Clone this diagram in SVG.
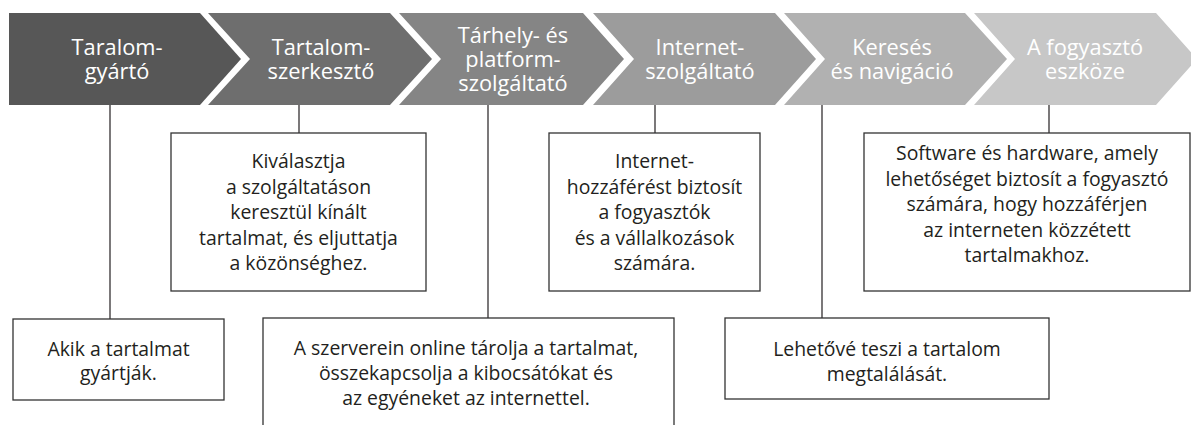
<svg xmlns="http://www.w3.org/2000/svg" width="1191" height="425" viewBox="0 0 1191 425">
<style>
.ct{font-family:"Open Sans","Liberation Sans",sans-serif;font-size:21.8px;fill:#ffffff;text-anchor:middle}
.bt{font-family:"Open Sans","Liberation Sans",sans-serif;font-size:19.4px;fill:#231f20;text-anchor:middle}
.box{fill:#ffffff;stroke:#333333;stroke-width:1.3}
.con{stroke:#231f20;stroke-width:1.2;fill:none}
</style>
<rect width="1191" height="425" fill="#ffffff"/>
<g id="connectors">
<line class="con" x1="110" y1="105" x2="110" y2="319"/>
<line class="con" x1="299" y1="105" x2="299" y2="133"/>
<line class="con" x1="488" y1="105" x2="488" y2="318"/>
<line class="con" x1="655" y1="105" x2="655" y2="133"/>
<line class="con" x1="822" y1="105" x2="822" y2="318"/>
<line class="con" x1="1049" y1="105" x2="1049" y2="133"/>
</g>
<g id="ch1">
<polygon points="9,13 200,13 241,59 200,105 9,105" fill="#575757"/>
<text class="ct"><tspan x="117" y="55">Taralom-</tspan><tspan x="117" y="79">gyártó</tspan></text>
</g>
<g id="ch2">
<polygon points="208,13 390,13 432,59 390,105 208,105 250,59" fill="#6e6e6e"/>
<text class="ct"><tspan x="321" y="55">Tartalom-</tspan><tspan x="321" y="79">szerkesztő</tspan></text>
</g>
<g id="ch3">
<polygon points="399,13 583,13 624,59 583,105 399,105 441,59" fill="#858585"/>
<text class="ct"><tspan x="513" y="43">Tárhely- és</tspan><tspan x="513" y="67">platform-</tspan><tspan x="513" y="91">szolgáltató</tspan></text>
</g>
<g id="ch4">
<polygon points="593,13 775,13 816,59 775,105 593,105 634,59" fill="#9c9c9c"/>
<text class="ct"><tspan x="700" y="55">Internet-</tspan><tspan x="700" y="79">szolgáltató</tspan></text>
</g>
<g id="ch5">
<polygon points="784,13 965,13 1007,59 965,105 784,105 825,59" fill="#b1b1b1"/>
<text class="ct"><tspan x="892" y="55">Keresés</tspan><tspan x="892" y="79">és navigáció</tspan></text>
</g>
<g id="ch6">
<polygon points="974,13 1156,13 1197,59 1156,105 974,105 1015,59" fill="#c7c7c7"/>
<text class="ct"><tspan x="1085" y="55">A fogyasztó</tspan><tspan x="1085" y="79">eszköze</tspan></text>
</g>
<g id="box1">
<rect class="box" x="13" y="319" width="211" height="81"/>
<text class="bt"><tspan x="118.5" y="356">Akik a tartalmat</tspan><tspan x="118.5" y="380">gyártják.</tspan></text>
</g>
<g id="box2">
<rect class="box" x="171" y="133" width="255" height="158"/>
<text class="bt"><tspan x="298.5" y="168">Kiválasztja</tspan><tspan x="298.5" y="194">a szolgáltatáson</tspan><tspan x="298.5" y="219">keresztül kínált</tspan><tspan x="298.5" y="245">tartalmat, és eljuttatja</tspan><tspan x="298.5" y="270">a közönséghez.</tspan></text>
</g>
<g id="box3">
<rect class="box" x="263" y="318" width="411" height="120"/>
<text class="bt"><tspan x="466" y="355">A szerverein online tárolja a tartalmat,</tspan><tspan x="466" y="380">összekapcsolja a kibocsátókat és</tspan><tspan x="466" y="405">az egyéneket az internettel.</tspan></text>
</g>
<g id="box4">
<rect class="box" x="549" y="133" width="211" height="158"/>
<text class="bt"><tspan x="654.5" y="168">Internet-</tspan><tspan x="654.5" y="194">hozzáférést biztosít</tspan><tspan x="654.5" y="219">a fogyasztók</tspan><tspan x="654.5" y="245">és a vállalkozások</tspan><tspan x="654.5" y="270">számára.</tspan></text>
</g>
<g id="box5">
<rect class="box" x="725" y="318" width="324" height="81"/>
<text class="bt"><tspan x="887" y="356">Lehetővé teszi a tartalom</tspan><tspan x="887" y="381">megtalálását.</tspan></text>
</g>
<g id="box6">
<rect class="box" x="864" y="133" width="326" height="158"/>
<text class="bt"><tspan x="1027" y="160">Software és hardware, amely</tspan><tspan x="1027" y="185.5">lehetőséget biztosít a fogyasztó</tspan><tspan x="1027" y="211">számára, hogy hozzáférjen</tspan><tspan x="1027" y="236.5">az interneten közzétett</tspan><tspan x="1027" y="262">tartalmakhoz.</tspan></text>
</g>
</svg>
